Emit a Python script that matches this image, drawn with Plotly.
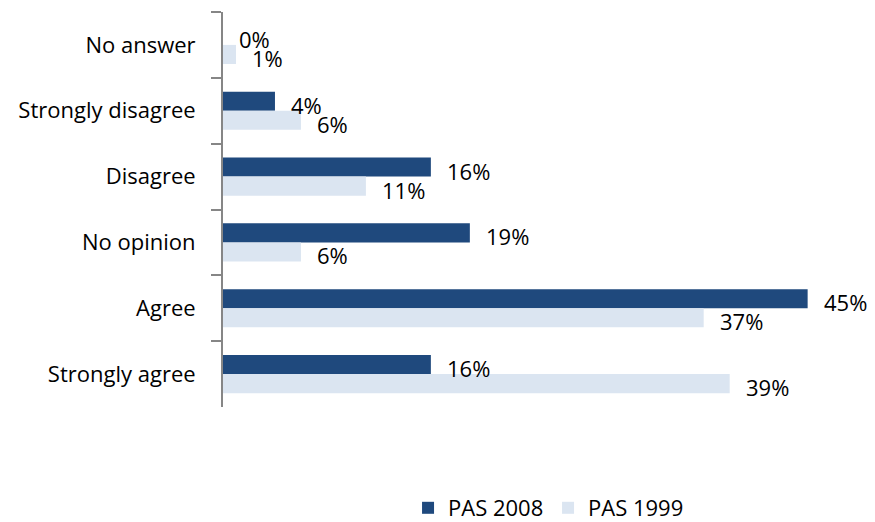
import plotly.graph_objects as go

categories = ["No answer", "Strongly disagree", "Disagree", "No opinion", "Agree", "Strongly agree"]
pas2008 = [0, 4, 16, 19, 45, 16]
pas1999 = [1, 6, 11, 6, 37, 39]
labels2008 = ["0%", "4%", "16%", "19%", "45%", "16%"]
labels1999 = ["1%", "6%", "11%", "6%", "37%", "39%"]

DARK = "#1F497D"
LIGHT = "#DBE5F1"
FONT = "Open Sans, Carlito, Calibri, sans-serif"
FS = 22

fig = go.Figure()
fig.add_trace(go.Bar(y=categories, x=pas2008, orientation="h", name="PAS 2008",
                     marker=dict(color=DARK, line=dict(width=0))))
fig.add_trace(go.Bar(y=categories, x=pas1999, orientation="h", name="PAS 1999",
                     marker=dict(color=LIGHT, line=dict(width=0))))

annotations = []
for c, v, t in zip(categories, pas2008, labels2008):
    annotations.append(dict(x=v, y=c, text=t, showarrow=False, xanchor="left",
                            yanchor="middle", xshift=14, yshift=6,
                            font=dict(family=FONT, size=FS, color="#000000")))
for c, v, t in zip(categories, pas1999, labels1999):
    annotations.append(dict(x=v, y=c, text=t, showarrow=False, xanchor="left",
                            yanchor="middle", xshift=14, yshift=-13,
                            font=dict(family=FONT, size=FS, color="#000000")))

fig.update_layout(
    width=875, height=522,
    margin=dict(l=223, r=5, t=12, b=115),
    paper_bgcolor="white", plot_bgcolor="white",
    barmode="group", bargap=0.42, bargroupgap=0,
    font=dict(family=FONT, size=FS, color="#000000"),
    xaxis=dict(range=[0, 49.8], visible=False, showgrid=False, zeroline=False,
               automargin=False),
    yaxis=dict(categoryorder="array", categoryarray=categories, autorange="reversed",
               automargin=False,
               showline=True, linecolor="#868686", linewidth=2,
               ticks="outside", tickson="boundaries", ticklen=10, tickwidth=2,
               tickcolor="#868686", ticklabelstandoff=21, showgrid=False,
               tickfont=dict(family=FONT, size=FS, color="#000000")),
    legend=dict(orientation="h", x=0.286, xanchor="left",
                yref="container", y=14 / 522, yanchor="middle",
                font=dict(family=FONT, size=FS, color="#000000"),
                traceorder="normal", itemwidth=30, entrywidth=95),
    annotations=annotations,
    showlegend=True,
)

fig.write_html("out.html", config={"displayModeBar": False},
               post_script="document.body.style.margin='0px';")
